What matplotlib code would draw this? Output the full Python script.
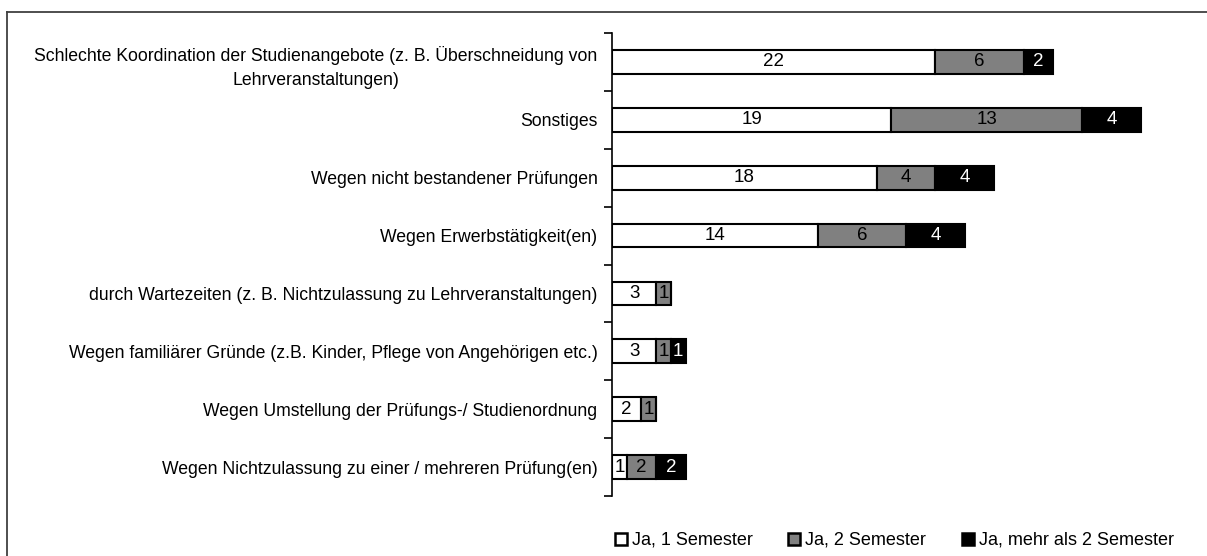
import numpy as np
import matplotlib.pyplot as plt
from matplotlib.lines import Line2D
from matplotlib.patches import Rectangle

categories = [
    "Schlechte Koordination der Studienangebote (z. B. Überschneidung von\nLehrveranstaltungen)",
    "Sonstiges",
    "Wegen nicht bestandener Prüfungen",
    "Wegen Erwerbstätigkeit(en)",
    "durch Wartezeiten (z. B. Nichtzulassung zu Lehrveranstaltungen)",
    "Wegen familiärer Gründe (z.B. Kinder, Pflege von Angehörigen etc.)",
    "Wegen Umstellung der Prüfungs-/ Studienordnung",
    "Wegen Nichtzulassung zu einer / mehreren Prüfung(en)",
]
sem1 = [22, 19, 18, 14, 3, 3, 2, 1]
sem2 = [6, 13, 4, 6, 1, 1, 1, 2]
sem3 = [2, 4, 4, 4, 0, 1, 0, 2]
series = ["Ja, 1 Semester", "Ja, 2 Semester", "Ja, mehr als 2 Semester"]

plt.rcParams['font.family'] = ['Liberation Sans', 'DejaVu Sans']

W, H = 1207, 556
fig = plt.figure(figsize=(W / 100, H / 100), dpi=100)
ax = fig.add_axes([612 / W, 1 - 496 / H, 588 / W, 463 / H])

y = np.arange(len(categories))
colors = ['white', '#808080', 'black']
text_colors = ['black', 'black', 'white']
left = np.zeros(len(categories))
for vals, c, tc, lab in zip([sem1, sem2, sem3], colors, text_colors, series):
    vals = np.array(vals, dtype=float)
    bars = ax.barh(y, vals, left=left, height=0.41, color=c, edgecolor='black',
                   linewidth=1.5, label=lab)
    for bar, v in zip(bars, vals):
        if v > 0:
            ax.text(bar.get_x() + bar.get_width() / 2, bar.get_y() + bar.get_height() / 2,
                    f'{int(v)}', ha='center', va='center', color=tc, fontsize=13.5)
    left += vals

ax.set_xlim(0, 40)
ax.set_ylim(len(categories) - 0.5, -0.5)
ax.set_yticks(y)
ax.set_yticklabels(categories, fontsize=12.7, multialignment='center')
ax.get_yticklabels()[0].set_linespacing(1.55)
ax.set_yticks(np.arange(len(categories) + 1) - 0.5, minor=True)
ax.tick_params(axis='y', which='major', length=0, pad=10.5)
ax.tick_params(axis='y', which='minor', length=6, width=1.2, direction='out')
ax.set_xticks([])
for s in ['top', 'right', 'bottom']:
    ax.spines[s].set_visible(False)
ax.spines['left'].set_linewidth(1.2)

# legend, drawn by hand to match the spacing of the original
legend_x = [615, 788, 962]
for lx, c, lab in zip(legend_x, colors, series):
    fig.add_artist(Rectangle((lx / W, 1 - 545 / H), 12 / W, 12 / H, facecolor=c,
                             edgecolor='black', linewidth=1.8, transform=fig.transFigure))
    fig.text((lx + 17) / W, 1 - 540 / H, lab, ha='left', va='center', fontsize=13)

# outer frame
fig.add_artist(Line2D([7 / W, 7 / W], [-0.01, 1 - 12 / H], color='#404040', linewidth=1.3))
fig.add_artist(Line2D([7 / W, 1.01], [1 - 12 / H, 1 - 12 / H], color='#404040', linewidth=1.3))

fig.savefig('out.png', dpi=100)
